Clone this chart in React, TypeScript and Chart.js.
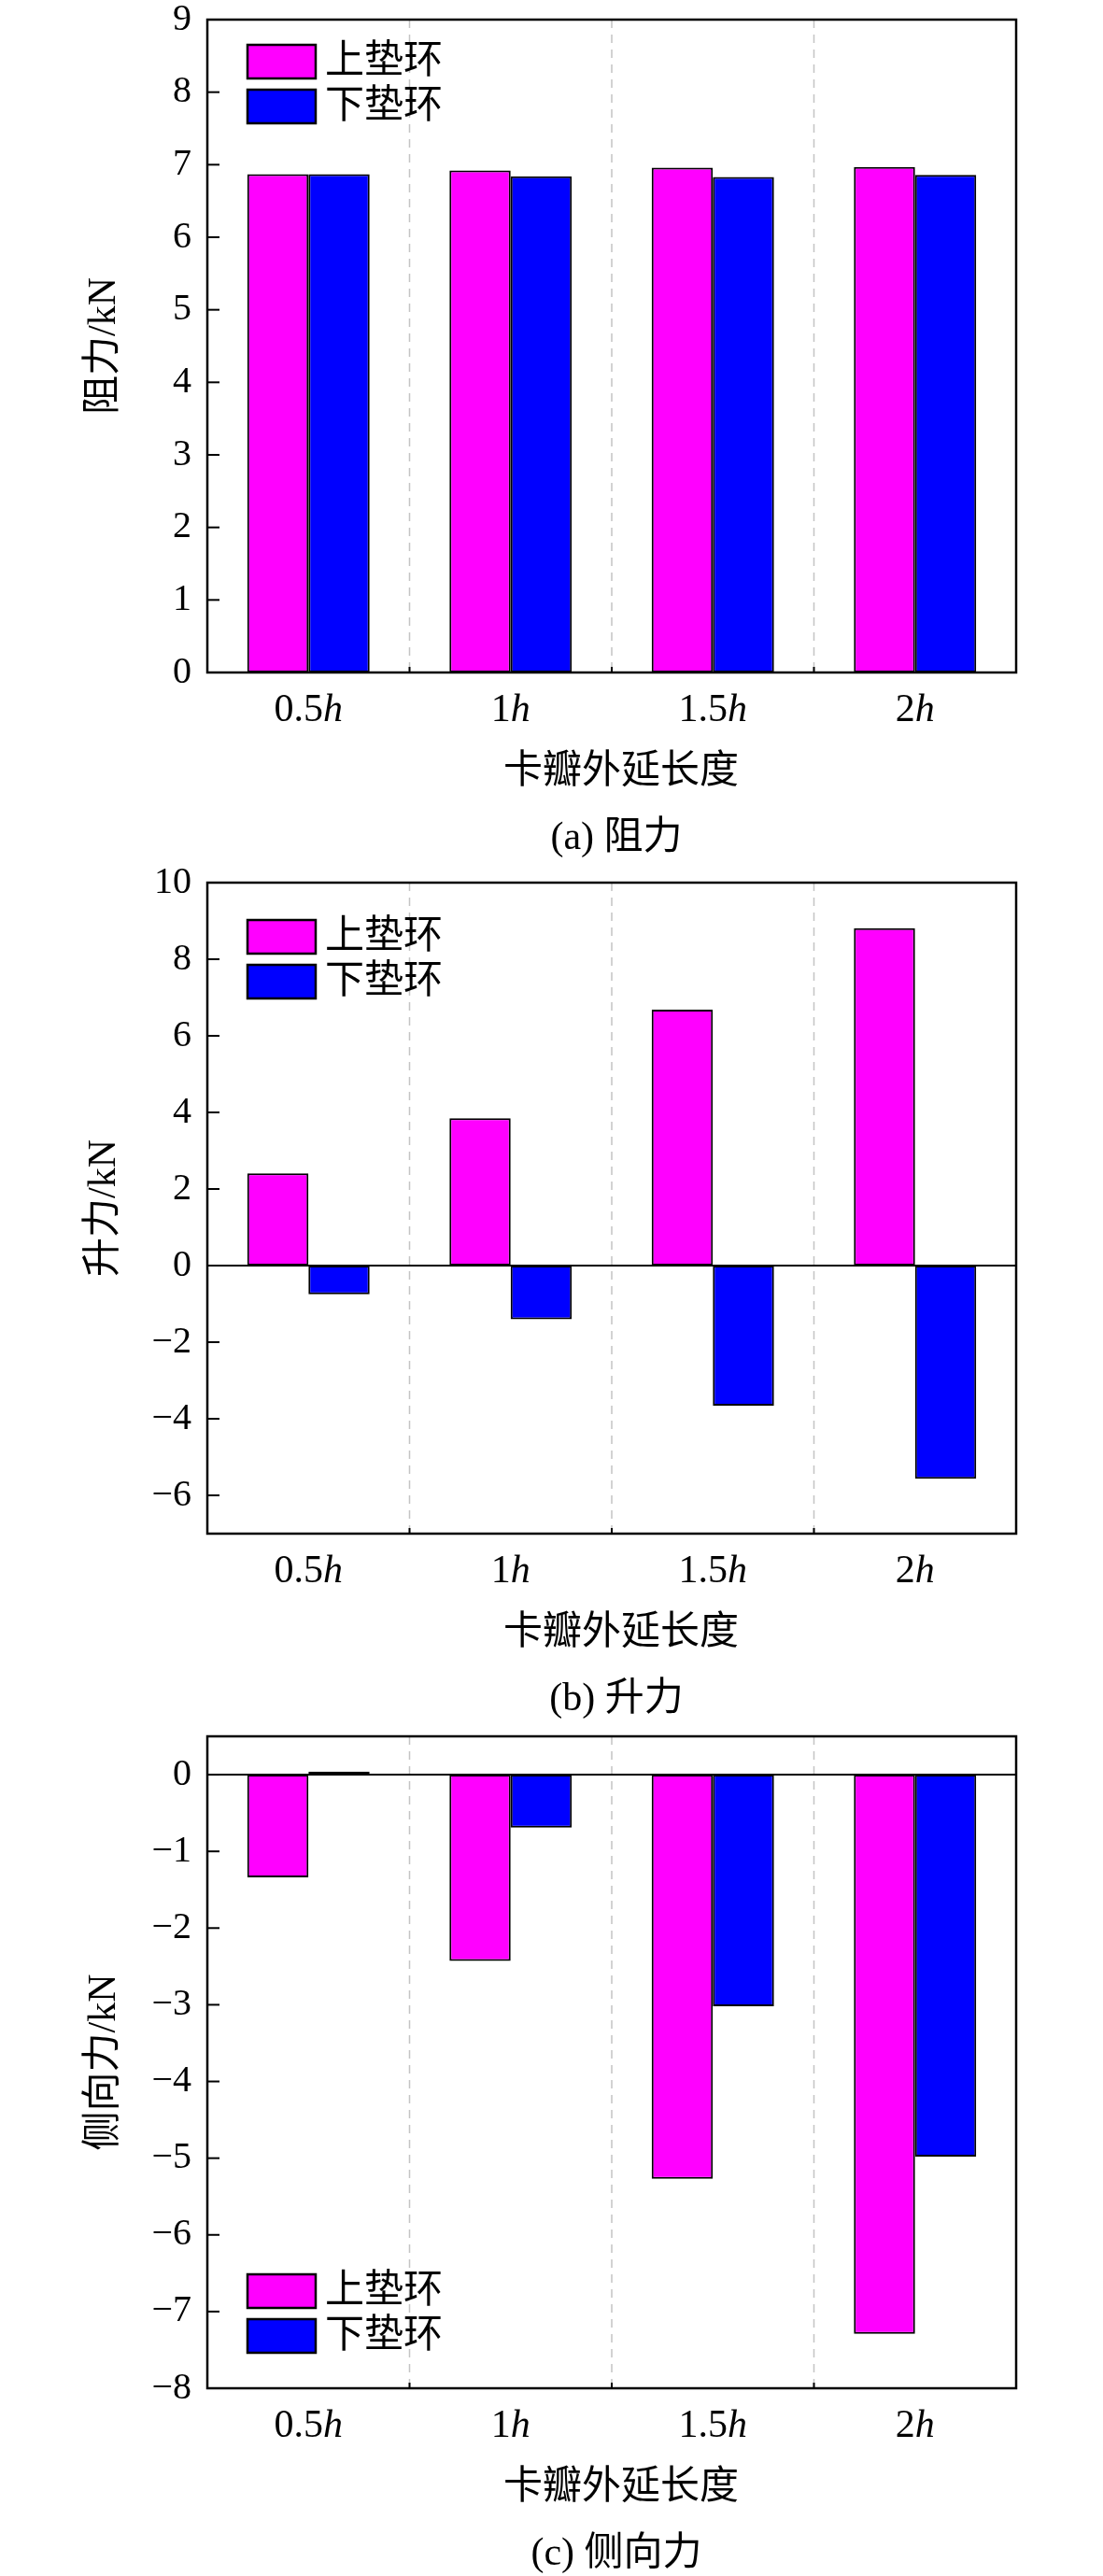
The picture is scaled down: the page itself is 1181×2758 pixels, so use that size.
import { useEffect, useRef } from "react";
import { Chart, BarController, BarElement, CategoryScale, LinearScale } from "chart.js";

Chart.register(BarController, BarElement, CategoryScale, LinearScale);

// categories: number part, the "h" is drawn in italics after it
const CATEGORIES = ["0.5", "1", "1.5", "2"];
const SERIES = ["上垫环", "下垫环"];
const COLORS = ["#FF00FF", "#0000FF"];
const X_TITLE = "卡瓣外延长度";

// (a) 阻力
const DRAG_UPPER = [6.87, 6.92, 6.96, 6.97];
const DRAG_LOWER = [6.87, 6.84, 6.83, 6.86];
const DRAG_TICKS = [0, 1, 2, 3, 4, 5, 6, 7, 8, 9];

// (b) 升力
const LIFT_UPPER = [2.41, 3.85, 6.68, 8.81];
const LIFT_LOWER = [-0.75, -1.4, -3.66, -5.57];
const LIFT_TICKS = [-6, -4, -2, 0, 2, 4, 6, 8, 10];

// (c) 侧向力
const SIDE_UPPER = [-1.34, -2.43, -5.27, -7.29];
const SIDE_LOWER = [0.04, -0.69, -3.02, -4.98];
const SIDE_TICKS = [-8, -7, -6, -5, -4, -3, -2, -1, 0];

const SERIF = "'Liberation Serif', 'Times New Roman', serif";
const CJK = "'Liberation Serif', 'Noto Sans CJK SC', serif";
const W = 1181;
const PAD_TOP = 40;
const PLOT_LEFT = 222;
const PLOT_RIGHT = 1088;

const fmt = (v: number) => (v < 0 ? "\u2212" + Math.abs(v) : String(v));

type PanelProps = {
  upper: number[];
  lower: number[];
  ticks: number[];
  min: number;
  max: number;
  yTitle: string;
  caption: string;
  plotTop: number;
  plotBottom: number;
  height: number;
  legendTop?: number; // offset from chart top
  legendBottom?: number; // offset from chart bottom
};

function Panel(p: PanelProps) {
  const ref = useRef<HTMLCanvasElement | null>(null);
  const canvasTop = p.plotTop - PAD_TOP;

  useEffect(() => {
    const canvas = ref.current;
    if (!canvas) return;

    const decor = {
      id: "decor",
      beforeDatasetsDraw(chart: any) {
        const { ctx, chartArea: a } = chart;
        const xs = chart.scales.x;
        ctx.save();
        ctx.strokeStyle = "#c4c4c4";
        ctx.lineWidth = 1.5;
        ctx.setLineDash([9, 7]);
        for (let i = 0; i < CATEGORIES.length - 1; i++) {
          const x = (xs.getPixelForValue(i) + xs.getPixelForValue(i + 1)) / 2;
          ctx.beginPath();
          ctx.moveTo(x, a.top);
          ctx.lineTo(x, a.bottom);
          ctx.stroke();
        }
        ctx.restore();
      },
      afterDatasetsDraw(chart: any) {
        const { ctx, chartArea: a } = chart;
        const xs = chart.scales.x;
        const ys = chart.scales.y;
        ctx.save();
        ctx.strokeStyle = "#000";
        ctx.lineWidth = 2;
        // zero line
        if (p.min < 0) {
          const y0 = ys.getPixelForValue(0);
          ctx.beginPath();
          ctx.moveTo(a.left, y0);
          ctx.lineTo(a.right, y0);
          ctx.stroke();
        }
        // inward ticks
        for (const v of p.ticks) {
          const y = ys.getPixelForValue(v);
          ctx.beginPath();
          ctx.moveTo(a.left, y);
          ctx.lineTo(a.left + 13, y);
          ctx.stroke();
        }
        for (let i = 0; i < CATEGORIES.length - 1; i++) {
          const x = (xs.getPixelForValue(i) + xs.getPixelForValue(i + 1)) / 2;
          ctx.beginPath();
          ctx.moveTo(x, a.bottom);
          ctx.lineTo(x, a.bottom - 6);
          ctx.stroke();
        }
        // frame
        ctx.lineWidth = 2.5;
        ctx.strokeRect(a.left, a.top, a.right - a.left, a.bottom - a.top);

        // category labels with italic h
        ctx.fillStyle = "#000";
        ctx.textBaseline = "middle";
        ctx.textAlign = "left";
        CATEGORIES.forEach((c, i) => {
          const cx = xs.getPixelForValue(i);
          ctx.font = `42px ${SERIF}`;
          const w1 = ctx.measureText(c).width;
          ctx.font = `italic 42px ${SERIF}`;
          const w2 = ctx.measureText("h").width;
          const x0 = cx - (w1 + w2) / 2;
          const y = a.bottom + 41;
          ctx.font = `42px ${SERIF}`;
          ctx.fillText(c, x0, y);
          ctx.font = `italic 42px ${SERIF}`;
          ctx.fillText("h", x0 + w1, y);
        });

        // x title and caption
        const mid = (a.left + a.right) / 2;
        ctx.textAlign = "center";
        ctx.font = `42px ${CJK}`;
        ctx.fillText(X_TITLE, mid + 10, a.bottom + 107);
        ctx.font = `42px ${CJK}`;
        ctx.fillText(p.caption, mid + 5, a.bottom + 178);

        // y title
        ctx.save();
        ctx.translate(112, (a.top + a.bottom) / 2);
        ctx.rotate(-Math.PI / 2);
        ctx.font = `42px ${CJK}`;
        ctx.fillText(p.yTitle, 0, 0);
        ctx.restore();

        // legend
        const ly =
          p.legendTop !== undefined ? a.top + p.legendTop : a.bottom - (p.legendBottom as number);
        chart.data.datasets.forEach((ds: any, i: number) => {
          const by = ly + i * 48;
          ctx.fillStyle = ds.backgroundColor;
          ctx.fillRect(a.left + 43, by, 73, 36);
          ctx.lineWidth = 2.5;
          ctx.strokeStyle = "#000";
          ctx.strokeRect(a.left + 43, by, 73, 36);
          ctx.fillStyle = "#000";
          ctx.textAlign = "left";
          ctx.font = `42px ${CJK}`;
          ctx.fillText(ds.label, a.left + 126, by + 19);
        });
        ctx.restore();
      },
    };

    const plotH = p.plotBottom - p.plotTop;
    const chart = new Chart(canvas, {
      type: "bar",
      data: {
        labels: CATEGORIES,
        datasets: SERIES.map((s, i) => ({
          label: s,
          data: i === 0 ? p.upper : p.lower,
          backgroundColor: COLORS[i],
          borderColor: "#000",
          borderWidth: 2,
          borderSkipped: false,
          categoryPercentage: 0.605,
          barPercentage: 1,
        })),
      },
      options: {
        animation: false,
        responsive: false,
        maintainAspectRatio: false,
        layout: { padding: { top: PAD_TOP, right: W - PLOT_RIGHT, left: 0, bottom: 0 } },
        plugins: { legend: { display: false }, tooltip: { enabled: false } },
        scales: {
          x: {
            grid: { display: false },
            border: { display: false },
            ticks: { display: false },
            afterFit: (s: any) => {
              s.height = p.height - PAD_TOP - plotH;
            },
          },
          y: {
            min: p.min,
            max: p.max,
            grid: { display: false, drawTicks: false },
            border: { display: false },
            ticks: {
              color: "#000",
              padding: 17,
              font: { family: SERIF, size: 40, lineHeight: 1 },
              callback: (v: any) => fmt(Number(v)),
            },
            afterBuildTicks: (s: any) => {
              s.ticks = p.ticks.map((v) => ({ value: v }));
            },
            afterFit: (s: any) => {
              s.width = PLOT_LEFT;
            },
          },
        },
      } as any,
      plugins: [decor],
    });
    return () => chart.destroy();
  }, []);

  return (
    <canvas
      ref={ref}
      width={W}
      height={p.height}
      style={{ position: "absolute", left: 0, top: canvasTop, width: W, height: p.height }}
    />
  );
}

export default function App() {
  return (
    <div
      style={{
        position: "absolute",
        left: 0,
        top: 0,
        width: W,
        height: 2758,
        background: "#fff",
        overflow: "hidden",
      }}
    >
      <Panel
        upper={DRAG_UPPER}
        lower={DRAG_LOWER}
        ticks={DRAG_TICKS}
        min={0}
        max={9}
        yTitle="阻力/kN"
        caption="(a) 阻力"
        plotTop={21}
        plotBottom={720}
        height={944}
        legendTop={27}
      />
      <Panel
        upper={LIFT_UPPER}
        lower={LIFT_LOWER}
        ticks={LIFT_TICKS}
        min={-7}
        max={10}
        yTitle="升力/kN"
        caption="(b) 升力"
        plotTop={945}
        plotBottom={1642}
        height={945}
        legendTop={40}
      />
      <Panel
        upper={SIDE_UPPER}
        lower={SIDE_LOWER}
        ticks={SIDE_TICKS}
        min={-8}
        max={0.5}
        yTitle="侧向力/kN"
        caption="(c) 侧向力"
        plotTop={1859}
        plotBottom={2557}
        height={939}
        legendBottom={122}
      />
    </div>
  );
}
